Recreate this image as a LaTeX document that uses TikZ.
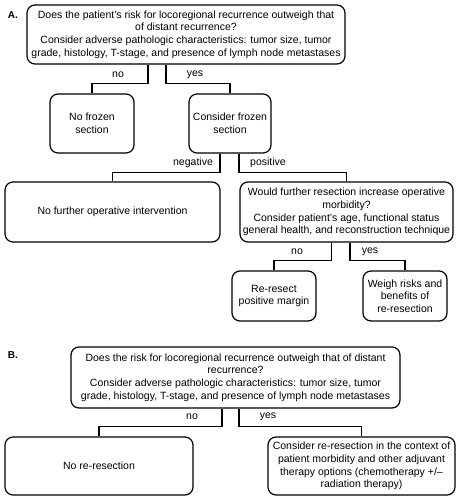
\documentclass[tikz,border=0pt]{standalone}
\usepackage{fontspec}
\setmainfont{Liberation Sans}
\begin{document}
\begin{tikzpicture}[x=1pt,y=-1pt,
  box/.style={draw,line width=1.2pt,rounded corners=8pt,align=center,inner sep=0pt,
    font=\fontsize{10.5}{12.6}\selectfont},
  lbl/.style={font=\fontsize{10.5}{12.6}\selectfont,inner sep=0pt},
  conn/.style={line width=1.1pt}]
\useasboundingbox (0,0) rectangle (458,500);
\node[font=\fontsize{10}{12}\selectfont\bfseries] (la) at (13,15) {A.};
\node[font=\fontsize{10}{12}\selectfont\bfseries] (lb) at (13,355) {B.};
% Part A
\node[box,minimum width=318pt,minimum height=59pt] (A1) at (186,34.5)
  {Does the patient's risk for locoregional recurrence outweigh that\\of distant recurrence?\\Consider adverse pathologic characteristics: tumor size, tumor\\grade, histology, T-stage, and presence of lymph node metastases};
\node[box,minimum width=84pt,minimum height=59pt] (nofz) at (92,123.5) {No frozen\\section};
\node[box,minimum width=82pt,minimum height=59pt] (cfz) at (230,123.5) {Consider frozen\\section};
\node[box,minimum width=215pt,minimum height=60pt] (nfoi) at (112.5,212) {No further operative intervention};
\node[box,minimum width=213pt,minimum height=60pt] (wfr) at (346.5,212)
  {Would further resection increase operative\\morbidity?\\Consider patient's age, functional status\\general health, and reconstruction technique};
\node[box,minimum width=84pt,minimum height=50pt] (rr) at (274,296) {Re-resect\\positive margin};
\node[box,minimum width=84pt,minimum height=50pt] (wr) at (405,296) {Weigh risks and\\benefits of\\re-resection};
\draw[conn] ([xshift=-38pt]A1.south) -- ++(0,19) -| (nofz.north);
\draw[conn] ([xshift=-20pt]A1.south) -- ++(0,19) -| (cfz.north);
\node[lbl] (a1no) at (118,75) {no};
\node[lbl] (a1yes) at (195,75) {yes};
\draw[conn] ([xshift=-10pt]cfz.south) -- ++(0,19) -| (nfoi.north);
\draw[conn] ([xshift=9pt]cfz.south) -- ++(0,19) -| (wfr.north);
\node[lbl] (neg) at (193,163) {negative};
\node[lbl] (pos) at (268,163) {positive};
\draw[conn] ([xshift=-14.8pt]wfr.south) -- ++(0,18) -| (rr.north);
\draw[conn] ([xshift=3.5pt]wfr.south) -- ++(0,18) -| (wr.north);
\node[lbl] (a2no) at (297,252) {no};
\node[lbl] (a2yes) at (370,252) {yes};
% Part B
\node[box,minimum width=329pt,minimum height=61pt] (B1) at (235.5,377.5)
  {Does the risk for locoregional recurrence outweigh that of distant\\recurrence?\\Consider adverse pathologic characteristics: tumor size, tumor\\grade, histology, T-stage, and presence of lymph node metastases};
\node[box,minimum width=188pt,minimum height=58pt] (nrr) at (99,466) {No re-resection};
\node[box,minimum width=187pt,minimum height=58pt] (crr) at (361.5,466)
  {Consider re-resection in the context of\\patient morbidity and other adjuvant\\therapy options (chemotherapy +/\textendash\\radiation therapy)};
\draw[conn] ([xshift=-13.5pt]B1.south) -- ++(0,18) -| (nrr.north);
\draw[conn] ([xshift=3.5pt]B1.south) -- ++(0,18) -| (crr.north);
\node[lbl] (bno) at (192,417) {no};
\node[lbl] (byes) at (268,417) {yes};
\end{tikzpicture}
\end{document}
